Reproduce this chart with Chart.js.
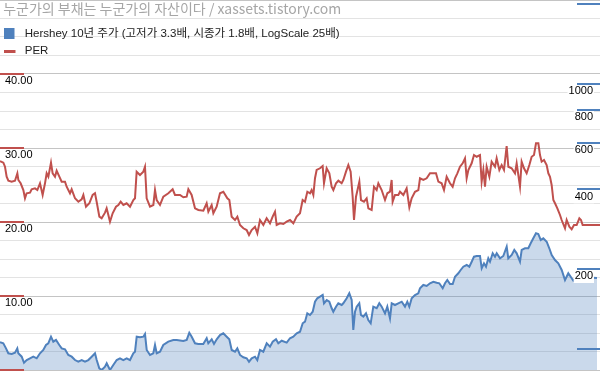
<!DOCTYPE html>
<html>
<head>
<meta charset="utf-8">
<script src="https://cdn.jsdelivr.net/npm/chart.js@4.4.1/dist/chart.umd.min.js"></script>
<style>
  html, body { margin: 0; padding: 0; background: #fff; }
</style>
</head>
<body>
<canvas id="chart" width="600" height="371"></canvas>
<script>
// texts
const titleText = ' 누군가의 부채는 누군가의 자산이다 / xassets.tistory.com';
const priceLabel = 'Hershey 10년 주가 (고저가 3.3배, 시종가 1.8배, LogScale 25배)';
const perLabel = 'PER';

// price, x = months from start (10 years)
const priceMonth = [0,0.66,1.2,1.66,2.34,3,3.46,3.66,4.34,4.8,5.34,6,6.66,7.34,8,8.66,9.2,9.66,10.2,10.66,11.2,11.86,12.34,13,13.66,14.34,15,15.66,16.34,17,17.66,18.34,19,19.34,19.86,20.34,21,21.34,22,22.66,23.34,24,24.66,25.34,26,26.66,27,27.34,28,28.66,29,29.34,30,
  30.66,31,31.34,32,32.66,33.66,34.66,35.34,36.66,37.34,37.86,38.34,39,39.66,40.66,41.34,41.66,42.34,42.8,43.34,44,44.66,45.34,45.86,46.34,47,47.46,48,48.66,49.34,49.8,50.34,51,51.46,52,52.66,53.34,54,54.54,55.2,55.66,56.34,57.34,58,58.66,59.34,60,
  60.54,61,61.46,62,62.54,63,63.46,64,64.54,64.8,65.34,65.86,66.34,66.66,67.2,67.66,68.34,68.66,69.34,69.86,70.34,70.66,71,71.34,71.86,72.2,72.66,73.2,73.66,74.14,74.66,75.34,75.86,76.34,77,77.46,78,78.34,79,79.66,80.34,81,81.46,81.86,82.34,83,83.66,84,84.66,85.34,86,86.66,87.34,87.86,88.54,89,89.46,90,
  90.54,91,91.66,92.14,92.66,93.34,93.86,94.34,94.8,95.34,96,96.34,96.8,97.2,97.66,98,98.54,99,99.34,100,100.66,101.34,101.66,102.34,102.86,103.34,104,104.34,105,105.66,106.14,106.66,107.2,107.66,108.14,108.66,109.34,109.86,110.34,111,111.66,112.34,113,113.66,114.14,114.66,115.34,119.4];
const price = [105.6,104.7,100.2,96.0,95.4,96.5,100.2,96.0,93.2,88.4,90.5,91.9,93.2,91.9,96.0,98.8,103.2,104.7,110.9,106.2,107.8,103.2,100.2,99.4,94.6,93.2,90.5,89.2,90.5,89.2,90.5,93.2,96.0,90.5,84.2,83.0,85.4,88.0,83.0,86.7,90.5,91.9,90.5,91.9,90.5,96.0,97.3,110.9,110.3,110.9,113.5,98.8,94.6,
  96.0,103.2,96.0,97.3,103.2,106.2,107.8,107.8,106.8,107.8,114.8,110.9,104.7,104.1,104.1,109.4,104.7,108.4,104.1,108.4,112.5,114.2,110.9,108.4,98.8,97.3,100.2,94.6,92.7,91.9,89.2,91.9,93.2,90.5,98.8,97.3,104.7,101.7,106.2,108.4,104.7,107.1,105.3,109.4,110.9,114.2,115.8,
  124.6,126.4,135.9,133.9,137.8,150.4,154.9,157.1,159.4,148.3,152.6,150.4,142.0,137.8,144.0,148.3,146.1,148.3,154.9,161.8,152.6,117.6,137.8,144.0,148.3,133.9,132.0,135.9,128.2,124.6,144.0,142.0,148.3,144.0,135.9,144.0,130.1,148.3,146.1,148.3,150.4,144.0,150.4,144.0,154.9,159.4,161.8,169.0,173.9,172.4,176.5,178.9,177.4,176.5,169.0,176.5,181.6,175.4,
  175.4,186.9,192.5,198.1,203.9,206.9,203.9,212.9,222.4,223.8,223.8,201.1,210.0,203.9,219.3,212.9,229.1,222.4,229.1,219.3,223.8,242.6,219.3,225.7,235.8,229.1,212.9,235.8,239.3,239.3,249.9,261.0,272.6,271.0,257.2,261.0,253.4,239.3,225.7,216.1,210.0,198.1,181.6,192.5,186.9,180.5,186.9,184.8];

// PER
const perMonth = [0,0.67,1,1.33,1.67,2.33,3,3.47,3.67,4.13,4.67,5,5.33,6,6.33,7,7.47,8,8.53,9,9.33,9.67,10.2,10.53,11,11.33,11.87,12.33,13,13.33,14,14.33,15,15.67,16.33,16.67,17.2,17.87,18.53,19,19.33,19.87,20.33,21,21.33,21.67,22,22.53,23.2,23.67,24.13,24.67,25.33,26,26.67,27,27.33,28,28.67,29,29.33,30,
  30.67,31,31.33,32,32.67,33.67,34.53,35,36,36.67,37.33,37.67,38.33,39,39.67,40.67,41.33,41.67,42.33,42.67,43.33,44,44.67,45.47,45.87,46.33,47,47.47,48,48.67,49.33,49.8,50.33,51,51.47,52,52.67,53.33,54,54.53,55,55.33,56,56.67,57.33,58,58.67,59.33,60,
  60.53,61,61.47,62,62.33,62.67,63,63.33,64,64.53,64.8,65.33,65.87,66.33,66.67,67.2,67.67,68.33,68.67,69.2,69.67,70.13,70.53,70.8,71.2,71.87,72.2,72.8,73.33,73.67,74.33,74.8,75.33,75.67,76.33,77,77.47,78,78.33,78.53,79,79.67,80,80.67,81.33,81.87,82.33,83,83.67,84,84.67,85.33,86,86.67,87.2,87.67,88.33,88.8,89.33,90,
  90.53,91,91.47,92,92.53,93,93.33,93.67,94.33,94.8,95.33,96,96.33,96.67,97,97.33,97.87,98.33,99,99.33,99.87,100.33,100.8,101.33,101.67,102.33,103,103.33,104,104.33,104.8,105.33,105.87,106.33,106.8,107.2,107.67,108,108.33,108.8,109.33,109.67,110,110.33,110.67,111,111.47,112,112.33,113,113.33,113.87,114.33,114.8,115.33,115.87,116.2,116.53,120];
const per = [28.24,28.01,27.47,26.12,25.58,25.45,25.58,26.58,25.68,25.23,24.32,23.2,23.88,23.96,24.42,24.55,24.32,25.23,23.65,25.23,26.58,26.12,28.01,26.58,26.12,26.93,26.12,25.45,25.45,24.77,23.88,24.42,23.2,22.74,23.07,23.65,22.07,22.53,23.65,23.88,22.74,20.72,20.5,21.26,21.85,20.95,20.04,21.18,22.07,22.3,22.74,22.3,22.53,22.07,22.97,23.2,26.8,26.35,26.8,27.47,23.2,22.07,
  22.3,24.32,22.97,22.3,23.42,23.88,24.42,23.65,23.65,23.34,23.42,24.42,23.65,21.85,21.62,21.53,22.53,21.39,22.3,21.18,22.07,23.88,24.09,23.2,22.97,20.72,20.27,20.72,19.59,19.15,18.92,18.24,18.92,19.36,18.47,20.27,19.59,20.5,19.82,20.72,21.39,19.59,19.82,19.73,20.04,20.27,19.82,20.72,21.18,
  22.97,22.74,24.09,23.88,24.32,23.65,25.91,27.03,27.26,27.57,25.23,27.26,26.58,24.77,24.32,25.23,25.58,25.23,25.68,26.8,27.7,26.8,23.42,20.27,23.42,25.45,22.97,22.74,23.2,21.85,21.62,24.77,24.32,25.23,24.32,22.97,23.88,24.09,25.68,22.74,23.65,23.65,24.09,23.65,24.55,21.99,23.2,24.09,24.32,25.91,25.68,25.91,26.58,26.58,26.58,25.45,25.23,24.32,26.12,25.23,
  24.77,25.91,26.58,27.47,27.93,28.61,25.91,27.03,27.93,29.05,28.82,29.05,25.45,27.03,24.77,27.47,26.12,28.15,27.47,28.61,27.03,27.7,27.03,30.27,27.47,27.26,26.58,27.93,24.77,28.15,27.26,26.58,27.7,28.82,29.05,30.64,30.64,29.05,28.15,28.38,27.7,26.58,26.12,25.0,22.97,22.53,21.85,20.95,20.27,19.15,20.27,19.36,19.01,19.59,19.59,20.5,20.27,19.59,19.59];

// axes
const perMin = 0, perMax = 50, perStep = 2.5;
const perLabelTicks = [10, 20, 30, 40];
const perDashTicks = [0, 10, 20, 30, 40];
const priceMin = 83, priceMax = 2075;   // 25x log range
const priceTicks = [100, 200, 400, 600, 800, 1000, 2000];
const priceLabelTicks = [200, 400, 600, 800, 1000];

const red = '#c0504d';
const blue = '#4f81bd';
const tickFont = { family: "'Liberation Sans', Arial, sans-serif", size: 11 };

const toXY = (xs, ys) => xs.map((x, i) => ({ x: x, y: ys[i] }));

// legend markers (square / line), left aligned in a wider canvas
function marker(h, draw) {
  const c = document.createElement('canvas');
  c.width = 18; c.height = h;
  draw(c.getContext('2d'));
  return c;
}
const priceMarker = marker(11, g => { g.fillStyle = blue; g.fillRect(0, 0, 11, 11); });
const perMarker = marker(3, g => { g.fillStyle = red; g.fillRect(0, 0, 12, 3); });

// short coloured dashes at the axis ticks
const tickDashes = {
  id: 'tickDashes',
  afterDraw(chart) {
    const { ctx, chartArea, scales } = chart;
    ctx.save();
    ctx.lineWidth = 2;
    ctx.strokeStyle = red;
    perDashTicks.forEach(v => {
      const y = Math.round(scales.per.getPixelForValue(v));
      ctx.beginPath(); ctx.moveTo(chartArea.left, y); ctx.lineTo(chartArea.left + 24, y); ctx.stroke();
    });
    ctx.strokeStyle = blue;
    priceTicks.forEach(v => {
      const y = Math.round(scales.price.getPixelForValue(v));
      ctx.beginPath(); ctx.moveTo(chartArea.right - 23, y); ctx.lineTo(chartArea.right, y); ctx.stroke();
    });
    ctx.restore();
  }
};

new Chart(document.getElementById('chart'), {
  type: 'line',
  data: {
    datasets: [
      {
        label: priceLabel,
        data: toXY(priceMonth, price),
        yAxisID: 'price',
        borderColor: blue,
        backgroundColor: 'rgba(79,129,189,0.3)',
        borderWidth: 2,
        fill: 'start',
        pointRadius: 0,
        tension: 0
      },
      {
        label: perLabel,
        data: toXY(perMonth, per),
        yAxisID: 'per',
        borderColor: red,
        borderWidth: 2,
        fill: false,
        pointRadius: 0,
        tension: 0
      }
    ]
  },
  plugins: [tickDashes],
  options: {
    responsive: false,
    animation: false,
    events: [],
    layout: { padding: { left: 0, right: 0, top: 0, bottom: 1 } },
    scales: {
      x: { type: 'linear', min: 0, max: 120, display: false },
      per: {
        type: 'linear',
        position: 'left',
        min: perMin,
        max: perMax,
        afterFit: s => { s.width = 0; s.paddingTop = 0; s.paddingBottom = 0; },
        border: { display: false },
        grid: {
          drawTicks: false,
          color: c => (c.tick && c.tick.value % 10 === 0) ? '#c4c4c4' : '#e3e3e3'
        },
        ticks: {
          stepSize: perStep,
          mirror: true,
          padding: 5,
          labelOffset: 7,
          color: '#000',
          font: tickFont,
          callback: v => perLabelTicks.includes(v) ? v.toFixed(2) : ''
        }
      },
      price: {
        type: 'logarithmic',
        position: 'right',
        min: priceMin,
        max: priceMax,
        afterBuildTicks: s => { s.ticks = priceTicks.map(v => ({ value: v })); },
        afterFit: s => { s.width = 0; s.paddingTop = 0; s.paddingBottom = 0; },
        border: { display: false },
        grid: { display: false, drawTicks: false },
        ticks: {
          mirror: true,
          padding: -7,
          labelOffset: 7.5,
          z: 1,
          color: '#000',
          font: tickFont,
          showLabelBackdrop: true,
          backdropColor: c => (c.tick && priceLabelTicks.includes(c.tick.value)) ? '#fff' : 'rgba(255,255,255,0)',
          backdropPadding: { x: 1, y: 0 },
          callback: v => priceLabelTicks.includes(v) ? String(v) : ''
        }
      }
    },
    plugins: {
      tooltip: { enabled: false },
      legend: {
        position: 'chartArea',
        align: 'start',
        title: {
          display: true,
          text: titleText,
          position: 'start',
          color: '#a6a6a6',
          font: { family: "'Noto Sans CJK KR', sans-serif", size: 14 },
          padding: { top: 2, bottom: 2.95 }
        },
        labels: {
          usePointStyle: true,
          pointStyleWidth: 13,
          padding: 6,
          color: '#222',
          font: { family: "'Liberation Sans', 'Noto Sans CJK KR', sans-serif", size: 11.5 },
          generateLabels: () => [
            { text: priceLabel, pointStyle: priceMarker, fillStyle: blue, strokeStyle: blue, fontColor: '#222', lineWidth: 0, hidden: false, datasetIndex: 0 },
            { text: perLabel, pointStyle: perMarker, fillStyle: red, strokeStyle: red, fontColor: '#222', lineWidth: 0, hidden: false, datasetIndex: 1 }
          ]
        }
      }
    }
  }
});
</script>
</body>
</html>
